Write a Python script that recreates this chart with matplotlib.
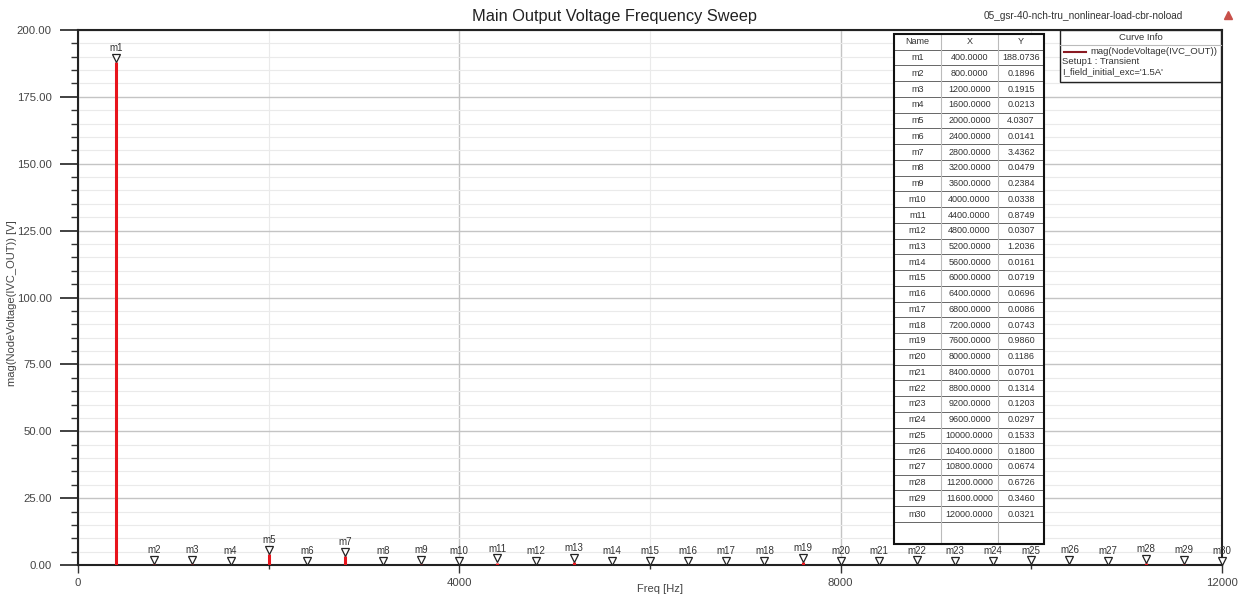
import matplotlib
matplotlib.use("Agg")
import matplotlib.pyplot as plt
from matplotlib.lines import Line2D
from matplotlib.patches import Rectangle
from matplotlib.transforms import offset_copy
from matplotlib.ticker import MultipleLocator

plt.rcParams['font.family'] = ['Liberation Sans', 'DejaVu Sans']

# Harmonic markers
marker_names = ["m1", "m2", "m3", "m4", "m5", "m6", "m7", "m8", "m9", "m10",
                "m11", "m12", "m13", "m14", "m15", "m16", "m17", "m18", "m19", "m20",
                "m21", "m22", "m23", "m24", "m25", "m26", "m27", "m28", "m29", "m30"]
freq_hz = [400, 800, 1200, 1600, 2000, 2400, 2800, 3200, 3600, 4000,
           4400, 4800, 5200, 5600, 6000, 6400, 6800, 7200, 7600, 8000,
           8400, 8800, 9200, 9600, 10000, 10400, 10800, 11200, 11600, 12000]
mag_v = [188.0736, 0.1896, 0.1915, 0.0213, 4.0307, 0.0141, 3.4362, 0.0479, 0.2384, 0.0338,
         0.8749, 0.0307, 1.2036, 0.0161, 0.0719, 0.0696, 0.0086, 0.0743, 0.9860, 0.1186,
         0.0701, 0.1314, 0.1203, 0.0297, 0.1533, 0.1800, 0.0674, 0.6726, 0.3460, 0.0321]

x_ticks = [0, 4000, 8000, 12000]
y_ticks = [0, 25, 50, 75, 100, 125, 150, 175, 200]

W, H = 1242, 597
fig = plt.figure(figsize=(W / 100, H / 100), dpi=100)


def fx(px):
    return px / W


def fy(py):
    return 1 - py / H


ax = fig.add_axes([fx(78), fy(565), fx(1222) - fx(78), fy(30) - fy(565)])
ax.set_xlim(0, 12000)
ax.set_ylim(0, 200)

# grid
ax.xaxis.set_major_locator(MultipleLocator(4000))
ax.xaxis.set_minor_locator(MultipleLocator(2000))
ax.yaxis.set_major_locator(MultipleLocator(25))
ax.yaxis.set_minor_locator(MultipleLocator(5))
ax.grid(which='major', color='#c4c4c4', lw=1.0)
ax.grid(which='minor', color='#eaeaea', lw=0.8)
ax.set_axisbelow(True)

ax.set_xticks(x_ticks)
ax.set_xticklabels([str(v) for v in x_ticks])
ax.set_yticks(y_ticks)
ax.set_yticklabels([f"{v:.2f}" for v in y_ticks])
ax.tick_params(axis='y', which='major', length=13, width=1.3, color='#333', labelsize=8.2,
               labelcolor='#444', pad=6)
ax.tick_params(axis='y', which='minor', length=5, width=1.0, color='#333')
ax.tick_params(axis='x', which='major', length=6, width=1.0, color='#333', labelsize=8.2,
               labelcolor='#444', pad=3)
ax.tick_params(axis='x', which='minor', length=3, width=1.0, color='#333')

for s in ax.spines.values():
    s.set_color('#222')
    s.set_linewidth(1.5)

ax.set_xlabel("Freq [Hz]", fontsize=8, color='#444', labelpad=2)
ax.xaxis.set_label_coords((660 - 78) / (1222 - 78), -0.035)
ax.set_ylabel("mag(NodeVoltage(IVC_OUT)) [V]", fontsize=8, color='#444', labelpad=4)
ax.yaxis.set_label_coords(-0.053, 0.49)

# spectral lines
ax.vlines(freq_hz, 0, mag_v, color='#e8141c', lw=2.2, zorder=3)

# marker triangles and names
tri_tf = offset_copy(ax.transData, fig=fig, x=0, y=3, units='points')
ax.plot(freq_hz, mag_v, ls='none', marker='v', ms=5.5, mfc='white', mec='#222', mew=0.9,
        transform=tri_tf, zorder=4, clip_on=False)
for name, f, v in zip(marker_names, freq_hz, mag_v):
    ax.annotate(name, (f, v), xytext=(0, 6.5), textcoords='offset points', ha='center',
                va='bottom', fontsize=7, color='#333', annotation_clip=False, zorder=5)

# title and design name
fig.text(fx(615), fy(17), "Main Output Voltage Frequency Sweep", ha='center', va='center',
         fontsize=11.8, color='#222')
fig.text(fx(1083), fy(16), "05_gsr-40-nch-tru_nonlinear-load-cbr-noload", ha='center',
         va='center', fontsize=7.2, color='#333')
fig.add_artist(Line2D([fx(1228)], [fy(15)], marker='^', ms=6, color='#c8504a', ls='none'))

# marker table
ov = fig.add_axes([0, 0, 1, 1], facecolor='none')
ov.set_xlim(0, W)
ov.set_ylim(H, 0)
ov.axis('off')

t_left, t_right, t_top, t_bot = 894, 1044, 34, 544
col_x = [894, 941, 998, 1044]
row_h = 15.74
ov.add_patch(Rectangle((t_left, t_top), t_right - t_left, t_bot - t_top, facecolor='white',
                       edgecolor='none', zorder=2))
n_rows = len(marker_names) + 1
for i in range(1, n_rows + 1):
    yy = t_top + i * row_h
    ov.plot([t_left, t_right], [yy, yy], color='#666', lw=0.7, zorder=3)
for cx in col_x[1:-1]:
    ov.plot([cx, cx], [t_top, t_bot], color='#bbb', lw=0.8, zorder=3)
ov.add_patch(Rectangle((t_left, t_top), t_right - t_left, t_bot - t_top, facecolor='none',
                       edgecolor='#111', lw=1.5, zorder=4))
header = ["Name", "X", "Y"]
cx_mid = [(col_x[i] + col_x[i + 1]) / 2 for i in range(3)]
for c, txt in zip(cx_mid, header):
    ov.text(c, t_top + row_h / 2, txt, ha='center', va='center', fontsize=6.5, color='#333',
            zorder=5)
for r, (name, f, v) in enumerate(zip(marker_names, freq_hz, mag_v), start=1):
    yy = t_top + (r + 0.5) * row_h
    ov.text(cx_mid[0], yy, name, ha='center', va='center', fontsize=6.5, color='#333', zorder=5)
    ov.text(cx_mid[1], yy, f"{f:.4f}", ha='center', va='center', fontsize=6.5, color='#333',
            zorder=5)
    ov.text(cx_mid[2], yy, f"{v:.4f}", ha='center', va='center', fontsize=6.5, color='#333',
            zorder=5)

# curve info box
ci_l, ci_r, ci_t, ci_b = 1060, 1221, 30, 82
ov.add_patch(Rectangle((ci_l, ci_t), ci_r - ci_l, ci_b - ci_t, facecolor='white',
                       edgecolor='#222', lw=1.0, zorder=4))
ov.plot([ci_l, ci_r], [45, 45], color='#bbb', lw=0.8, zorder=5)
ov.text((ci_l + ci_r) / 2, 37.5, "Curve Info", ha='center', va='center', fontsize=6.8,
        color='#333', zorder=5)
ov.plot([1064, 1086], [52, 52], color='#8b1a22', lw=1.5, zorder=5)
ov.text(1090, 52, "mag(NodeVoltage(IVC_OUT))", ha='left', va='center', fontsize=6.8,
        color='#333', zorder=5)
ov.text(1062, 62, "Setup1 : Transient", ha='left', va='center', fontsize=6.8, color='#333',
        zorder=5)
ov.text(1062, 72, "I_field_initial_exc='1.5A'", ha='left', va='center', fontsize=6.8,
        color='#333', zorder=5)

fig.savefig("out.png", dpi=100)
